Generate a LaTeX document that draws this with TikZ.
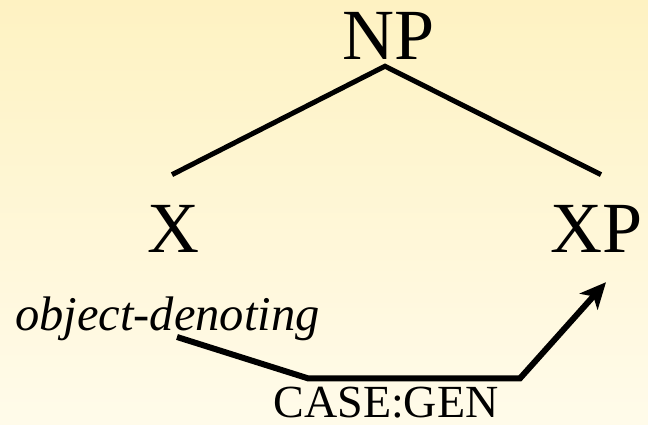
\documentclass[tikz,border=0pt]{standalone}
\usepackage{fontspec}
\setmainfont{Liberation Serif}
\usetikzlibrary{positioning, arrows.meta, calc}
\tikzstyle{bigcat} =[inner sep=0pt, anchor=base, font=\fontsize{72}{72}\selectfont]
\tikzstyle{smalltext} =[inner sep=0pt, anchor=base, font=\fontsize{46}{46}\selectfont]
\tikzstyle{branch} =[line width=5pt, black]
\definecolor{bgTop}{HTML}{FEF2C2}
\definecolor{bgBottom}{HTML}{FFFBEA}

\begin{document}
\begin{tikzpicture}[x=1pt, y=-1pt]
\shade[top color=bgTop, bottom color=bgBottom] (0,0) rectangle (648,425);
\useasboundingbox (0,0) rectangle (648,425);

\node (np) [bigcat] at (389,60) {NP};
\node (x) [bigcat] at (173,252) {X};
\node (xp) [bigcat] at (597,252) {XP};
\node (objdenot) [smalltext, anchor=base west, font=\fontsize{48.5}{48.5}\selectfont\itshape] at (15,330) {object-denoting};
\node (casegen) [smalltext] at (386,417) {CASE:GEN};

\coordinate (apex) at ($(np.south)+(-4,6)$);
\coordinate (xend) at ($(x.north)+(-1,-30)$);
\coordinate (xpend) at ($(xp.north)+(4,-30)$);
\draw[branch] (xend) -- (apex) -- (xpend);

\coordinate (start) at (177,337);
\coordinate (bendL) at ($(casegen.north)+(-78,-8)$);
\coordinate (bendR) at ($(casegen.north)+(134,-8)$);
\coordinate (tip) at ($(xp.south)+(9,30)$);
\draw[-{Stealth[length=26pt, width=24pt, inset=7pt]}, line width=6pt, black]
	(start) -- (bendL) -- (bendR) -- (tip);
\end{tikzpicture}
\end{document}
